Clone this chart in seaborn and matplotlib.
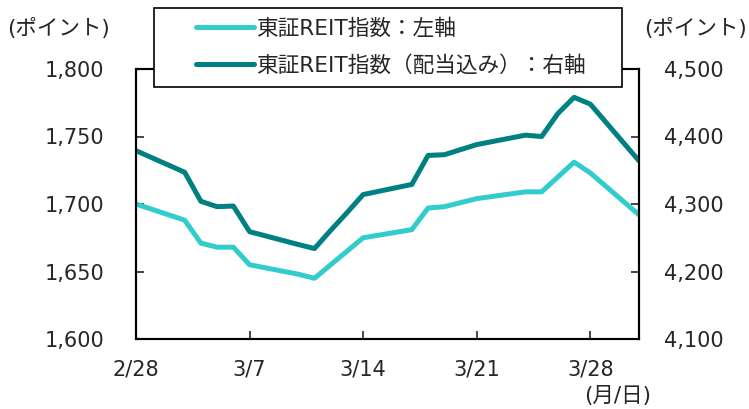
import pandas as pd
import matplotlib.pyplot as plt
import seaborn as sns
from matplotlib.patches import Rectangle
from matplotlib.ticker import FuncFormatter

# daily closes (business days, 2025)
dates = ['2025-02-28', '2025-03-03', '2025-03-04', '2025-03-05', '2025-03-06',
         '2025-03-07', '2025-03-10', '2025-03-11', '2025-03-12', '2025-03-13',
         '2025-03-14', '2025-03-17', '2025-03-18', '2025-03-19', '2025-03-21',
         '2025-03-24', '2025-03-25', '2025-03-26', '2025-03-27', '2025-03-28',
         '2025-03-31']
tse_reit = [1700, 1688, 1671, 1668, 1668, 1655, 1648, 1645, 1655, 1665,
            1675, 1681, 1697, 1698, 1704, 1709, 1709, 1720, 1731, 1723, 1692]
tse_reit_div = [4379, 4347, 4304, 4296, 4297, 4259, 4240, 4234, 4261, 4287,
                4314, 4329, 4372, 4373, 4388, 4402, 4400, 4434, 4458, 4448, 4364]

tick_dates = ['2025-02-28', '2025-03-07', '2025-03-14', '2025-03-21', '2025-03-28']
tick_labels = ['2/28', '3/7', '3/14', '3/21', '3/28']
label_left = '東証REIT指数：左軸'
label_right = '東証REIT指数（配当込み）：右軸'

df = pd.DataFrame({'date': pd.to_datetime(dates), 'reit': tse_reit, 'reit_div': tse_reit_div})

sns.set_style('ticks')
plt.rcParams['font.family'] = ['DejaVu Sans', 'Noto Sans CJK JP']

fig = plt.figure(figsize=(7.49, 4.09), dpi=100)
ax = fig.add_axes([136 / 749, 1 - 339 / 409, (639 - 136) / 749, (339 - 69) / 409])
ax2 = ax.twinx()

sns.lineplot(data=df, x='date', y='reit', ax=ax, color='#33CCCC', lw=3.6, label=label_left)
sns.lineplot(data=df, x='date', y='reit_div', ax=ax2, color='#008080', lw=3.6, label=label_right)
for a in (ax, ax2):
    if a.get_legend() is not None:
        a.get_legend().remove()
    a.set_xlabel('')
    a.set_ylabel('')

ax.set_xlim(pd.Timestamp('2025-02-28'), pd.Timestamp('2025-03-31'))
ax.set_xticks(pd.to_datetime(tick_dates))
ax.set_xticklabels(tick_labels)
ax.set_ylim(1600, 1800)
ax.set_yticks(range(1600, 1801, 50))
ax2.set_ylim(4100, 4500)
ax2.set_yticks(range(4100, 4501, 100))
fmt = FuncFormatter(lambda v, p: f'{int(v):,}')
ax.yaxis.set_major_formatter(fmt)
ax2.yaxis.set_major_formatter(fmt)

ax.tick_params(axis='x', direction='in', length=6, width=1.2, pad=15, labelsize=15)
ax.tick_params(axis='y', direction='in', length=6, width=1.2, pad=23, labelsize=15)
ax2.tick_params(axis='y', direction='in', length=6, width=1.2, pad=18, labelsize=15)
for a in (ax, ax2):
    for s in a.spines.values():
        s.set_color('black')
        s.set_linewidth(1.5)

# legend box sits over the top spine
box = Rectangle((154 / 749, 1 - 87 / 409), (622 - 154) / 749, (87 - 8) / 409,
                transform=fig.transFigure, facecolor='white', edgecolor='black',
                lw=1.2, zorder=4, clip_on=False)
ax2.add_artist(box)
handles = ax.get_lines()[:1] + ax2.get_lines()[:1]
leg = ax2.legend(handles, [label_left, label_right], loc='center left',
                 bbox_to_anchor=(185 / 749, 1 - 47 / 409), bbox_transform=fig.transFigure,
                 frameon=False, handlelength=2.7, handletextpad=0.1,
                 labelspacing=0.75, fontsize=15.6, borderpad=0)
leg.set_zorder(6)

fig.text(7 / 749, 1 - 29 / 409, '(ポイント)', fontsize=15.5, ha='left', va='center')
fig.text(747 / 749, 1 - 29 / 409, '(ポイント)', fontsize=15.5, ha='right', va='center')
fig.text(618 / 749, 1 - 396 / 409, '(月/日)', fontsize=15.5, ha='center', va='center')

fig.savefig('out.png', dpi=100)
